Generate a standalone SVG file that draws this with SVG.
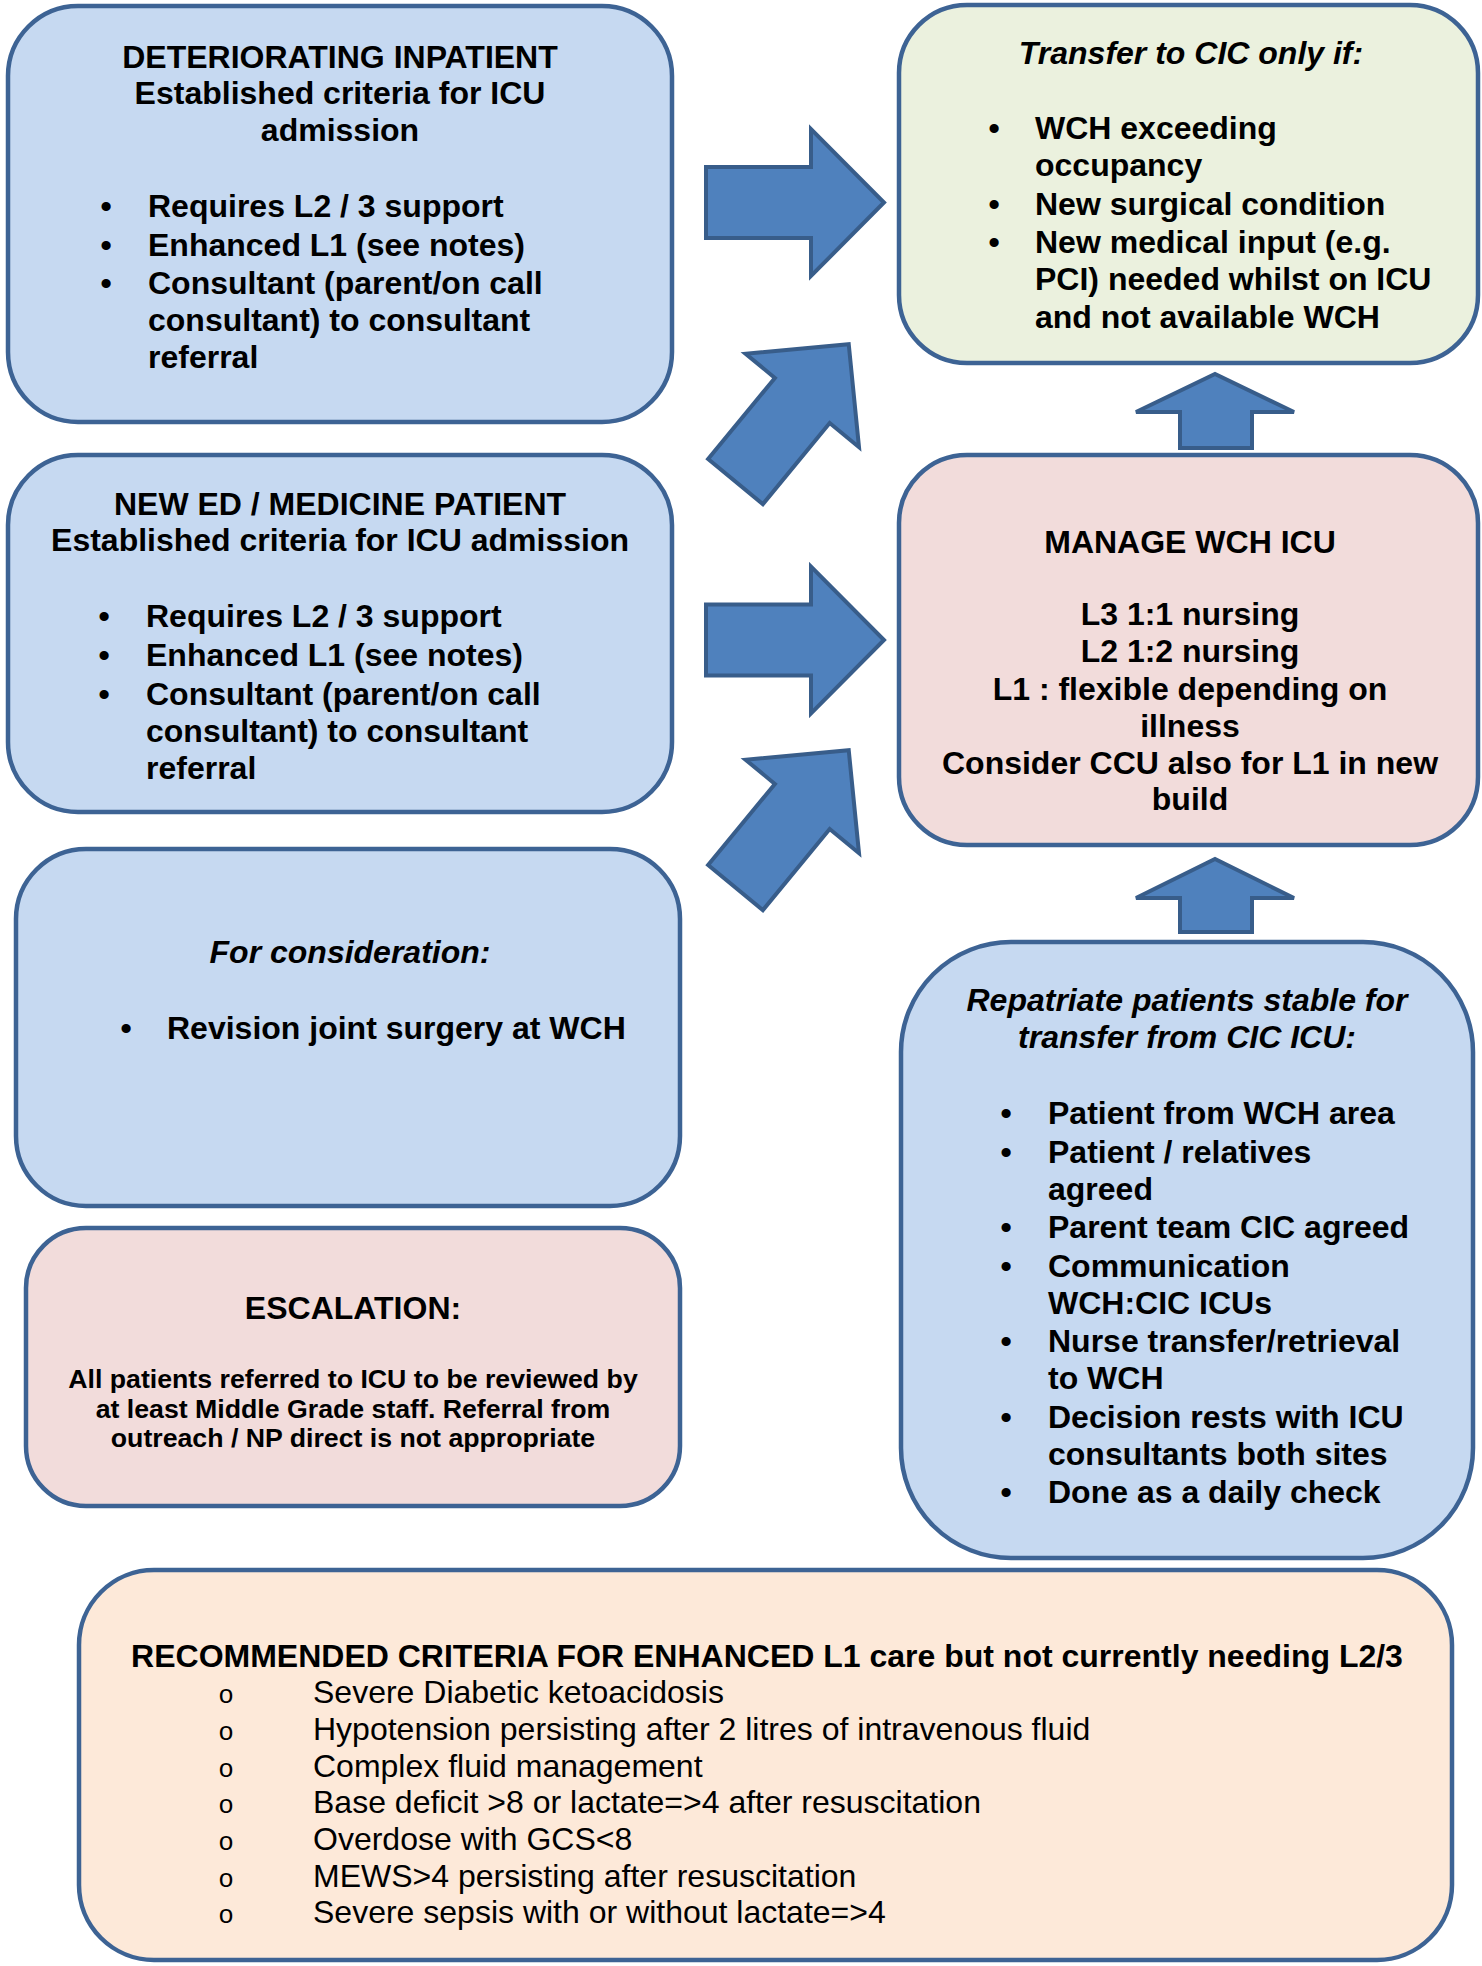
<svg xmlns="http://www.w3.org/2000/svg" width="1482" height="1966" viewBox="0 0 1482 1966">
<style>
.box{stroke:#3d6394;stroke-width:4.5}
.blue{fill:#c6d9f1}
.green{fill:#ebf1de}
.pink{fill:#f2dcdb}
.peach{fill:#fde9d9}
.arr{fill:#4f81bd;stroke:#385d8a;stroke-width:4;stroke-linejoin:miter}
text{font-family:"Liberation Sans",Arial,sans-serif;fill:#000}
.b{font-size:32px;font-weight:bold}
.bi{font-size:32px;font-weight:bold;font-style:italic}
.s{font-size:26.7px;font-weight:bold}
.r{font-size:32px}
.c{text-anchor:middle}
.o{font-family:"Liberation Mono","Courier New",monospace;font-size:26px;text-anchor:middle}
</style>
<defs>
<polygon id="bigArrow" points="0,-35.5 105,-35.5 105,-73.5 178,0 105,73.5 105,35.5 0,35.5"/>
</defs>
<rect width="1482" height="1966" fill="#ffffff"/>

<g id="connectors">
<use href="#bigArrow" class="arr" transform="translate(706,202.5)"/>
<use href="#bigArrow" class="arr" transform="translate(706,640)"/>
<use href="#bigArrow" class="arr" transform="translate(735.5,481.5) rotate(-50.5)"/>
<use href="#bigArrow" class="arr" transform="translate(735.5,887.5) rotate(-50.5)"/>
<polygon class="arr" points="1180,448 1180,412 1136,412 1215,374 1294,412 1252,412 1252,448"/>
<polygon class="arr" points="1180,932 1180,898 1136,898 1215,859 1294,898 1252,898 1252,932"/>
</g>

<g id="deteriorating-inpatient">
<rect class="box blue" x="8" y="6" width="664" height="416" rx="70" ry="70"/>
<text class="b c" x="340" y="68">DETERIORATING INPATIENT</text>
<text class="b c" x="340" y="104">Established criteria for ICU</text>
<text class="b c" x="340" y="141">admission</text>
<text class="b c" x="106" y="217">•</text>
<text class="b" x="148" y="217">Requires L2 / 3 support</text>
<text class="b c" x="106" y="256">•</text>
<text class="b" x="148" y="256">Enhanced L1 (see notes)</text>
<text class="b c" x="106" y="294">•</text>
<text class="b" x="148" y="294">Consultant (parent/on call</text>
<text class="b" x="148" y="331">consultant) to consultant</text>
<text class="b" x="148" y="368">referral</text>
</g>

<g id="new-ed-medicine-patient">
<rect class="box blue" x="8" y="455" width="664" height="357" rx="70" ry="70"/>
<text class="b c" x="340" y="515">NEW ED / MEDICINE PATIENT</text>
<text class="b c" x="340" y="551">Established criteria for ICU admission</text>
<text class="b c" x="104" y="627">•</text>
<text class="b" x="146" y="627">Requires L2 / 3 support</text>
<text class="b c" x="104" y="666">•</text>
<text class="b" x="146" y="666">Enhanced L1 (see notes)</text>
<text class="b c" x="104" y="705">•</text>
<text class="b" x="146" y="705">Consultant (parent/on call</text>
<text class="b" x="146" y="742">consultant) to consultant</text>
<text class="b" x="146" y="779">referral</text>
</g>

<g id="for-consideration">
<rect class="box blue" x="16" y="849" width="664" height="357" rx="70" ry="70"/>
<text class="bi c" x="350" y="963">For consideration:</text>
<text class="b c" x="126" y="1039">•</text>
<text class="b" x="167" y="1039">Revision joint surgery at WCH</text>
</g>

<g id="escalation">
<rect class="box pink" x="26" y="1228" width="654" height="278" rx="60" ry="60"/>
<text class="b c" x="353" y="1319">ESCALATION:</text>
<text class="s c" x="353" y="1388">All patients referred to ICU to be reviewed by</text>
<text class="s c" x="353" y="1418">at least Middle Grade staff. Referral from</text>
<text class="s c" x="353" y="1447">outreach / NP direct is not appropriate</text>
</g>

<g id="transfer-to-cic">
<rect class="box green" x="899" y="5" width="579" height="358" rx="68" ry="68"/>
<text class="bi c" x="1191" y="64">Transfer to CIC only if:</text>
<text class="b c" x="994" y="139">•</text>
<text class="b" x="1035" y="139">WCH exceeding</text>
<text class="b" x="1035" y="176">occupancy</text>
<text class="b c" x="994" y="215">•</text>
<text class="b" x="1035" y="215">New surgical condition</text>
<text class="b c" x="994" y="253">•</text>
<text class="b" x="1035" y="253">New medical input (e.g.</text>
<text class="b" x="1035" y="290">PCI) needed whilst on ICU</text>
<text class="b" x="1035" y="328">and not available WCH</text>
</g>

<g id="manage-wch-icu">
<rect class="box pink" x="899" y="455" width="579" height="390" rx="68" ry="68"/>
<text class="b c" x="1190" y="553">MANAGE WCH ICU</text>
<text class="b c" x="1190" y="625">L3 1:1 nursing</text>
<text class="b c" x="1190" y="662">L2 1:2 nursing</text>
<text class="b c" x="1190" y="700">L1 : flexible depending on</text>
<text class="b c" x="1190" y="737">illness</text>
<text class="b c" x="1190" y="774">Consider CCU also for L1 in new</text>
<text class="b c" x="1190" y="810">build</text>
</g>

<g id="repatriate-patients">
<rect class="box blue" x="901" y="942" width="572" height="616" rx="110" ry="110"/>
<text class="bi c" x="1187" y="1011">Repatriate patients stable for</text>
<text class="bi c" x="1187" y="1048">transfer from CIC ICU:</text>
<text class="b c" x="1006" y="1124">•</text>
<text class="b" x="1048" y="1124">Patient from WCH area</text>
<text class="b c" x="1006" y="1163">•</text>
<text class="b" x="1048" y="1163">Patient / relatives</text>
<text class="b" x="1048" y="1200">agreed</text>
<text class="b c" x="1006" y="1238">•</text>
<text class="b" x="1048" y="1238">Parent team CIC agreed</text>
<text class="b c" x="1006" y="1277">•</text>
<text class="b" x="1048" y="1277">Communication</text>
<text class="b" x="1048" y="1314">WCH:CIC ICUs</text>
<text class="b c" x="1006" y="1352">•</text>
<text class="b" x="1048" y="1352">Nurse transfer/retrieval</text>
<text class="b" x="1048" y="1389">to WCH</text>
<text class="b c" x="1006" y="1428">•</text>
<text class="b" x="1048" y="1428">Decision rests with ICU</text>
<text class="b" x="1048" y="1465">consultants both sites</text>
<text class="b c" x="1006" y="1503">•</text>
<text class="b" x="1048" y="1503">Done as a daily check</text>
</g>

<g id="recommended-criteria">
<rect class="box peach" x="79" y="1570" width="1373" height="390" rx="75" ry="75"/>
<text class="b c" x="767" y="1667">RECOMMENDED CRITERIA FOR ENHANCED L1 care but not currently needing L2/3</text>
<text class="o" x="226" y="1703">o</text>
<text class="r" x="313" y="1703">Severe Diabetic ketoacidosis</text>
<text class="o" x="226" y="1740">o</text>
<text class="r" x="313" y="1740">Hypotension persisting after 2 litres of intravenous fluid</text>
<text class="o" x="226" y="1777">o</text>
<text class="r" x="313" y="1777">Complex fluid management</text>
<text class="o" x="226" y="1813">o</text>
<text class="r" x="313" y="1813">Base deficit &gt;8 or lactate=&gt;4 after resuscitation</text>
<text class="o" x="226" y="1850">o</text>
<text class="r" x="313" y="1850">Overdose with GCS&lt;8</text>
<text class="o" x="226" y="1887">o</text>
<text class="r" x="313" y="1887">MEWS&gt;4 persisting after resuscitation</text>
<text class="o" x="226" y="1923">o</text>
<text class="r" x="313" y="1923">Severe sepsis with or without lactate=&gt;4</text>
</g>
</svg>
